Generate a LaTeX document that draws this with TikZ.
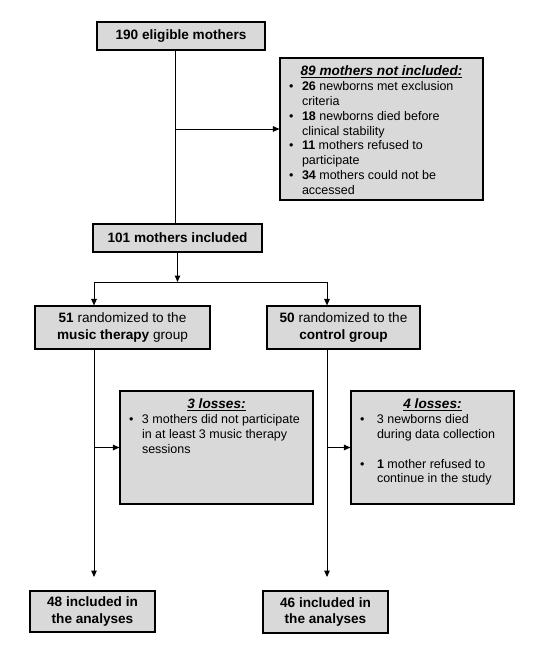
\documentclass[tikz,border=0pt]{standalone}
\usepackage{fontspec}
\setmainfont{Liberation Sans}
\usetikzlibrary{arrows.meta,positioning}
\definecolor{boxgray}{RGB}{217,217,217}
\newcommand{\bigsize}{\fontsize{13.6}{16.5}\selectfont}
\newcommand{\smallsize}{\fontsize{12.5}{14.8}\selectfont}
\newcommand{\boxhead}[1]{{\centering\bigsize\bfseries\itshape\underline{#1}\par}}
\newcommand{\bitem}[2][16pt]{\par\hangindent=#1\hangafter=1\noindent\makebox[#1][l]{\hspace{3pt}\textbullet}#2}

\begin{document}
\begin{tikzpicture}[x=1pt,y=-1pt,
  box/.style={draw,fill=boxgray,line width=1.1pt,inner sep=0pt,align=center,font=\bigsize},
  boldbox/.style={box,font=\bigsize\bfseries},
  listbox/.style={draw,fill=boxgray,line width=1.1pt,inner xsep=6pt,inner ysep=0pt},
  link/.style={line width=1pt},
  arr/.style={line width=1pt,-{Triangle[length=6.5pt,width=5.5pt]}}]
\useasboundingbox (0,0) rectangle (551,661);
\node[boldbox,minimum width=168pt,minimum height=28pt] (elig) at (181,36) {190 eligible mothers};
\node[listbox] (notinc) at (381.5,129) {\parbox[c][142pt][t]{191pt}{\vspace*{8pt}\boxhead{89 mothers not included:}\smallsize\raggedright
\bitem{\textbf{26} newborns met exclusion\newline criteria}
\bitem{\textbf{18} newborns died before\newline clinical stability}
\bitem{\textbf{11} mothers refused to\newline participate}
\bitem{\textbf{34} mothers could not be\newline accessed}}};
\node[boldbox,minimum width=169pt,minimum height=28pt] (incl) at (177.5,238) {101 mothers included};
\node[box,minimum width=175pt,minimum height=43pt] (music) at (122.5,327.5) {\textbf{51} randomized to the\\\textbf{music therapy} group};
\node[box,minimum width=153pt,minimum height=43pt] (control) at (343.5,327.5) {\textbf{50} randomized to the\\\textbf{control group}};
\node[listbox] (lossA) at (216.5,447.5) {\parbox[c][113pt][t]{181pt}{\vspace*{8pt}\boxhead{3 losses:}\smallsize\raggedright
\bitem{3 mothers did not participate\newline in at least 3 music therapy\newline sessions}}};
\node[listbox] (lossB) at (432.5,447.5) {\parbox[c][113pt][t]{151pt}{\vspace*{8pt}\boxhead{4 losses:}\smallsize\raggedright
\bitem[20pt]{3 newborns died\newline during data collection}
\par\vspace{14.8pt}
\bitem[20pt]{\textbf{1} mother refused to\newline continue in the study}}};
\node[boldbox,minimum width=125pt,minimum height=41pt] (anA) at (92.5,611.5) {48 included in\\the analyses};
\node[boldbox,minimum width=125pt,minimum height=42pt] (anB) at (325.5,612) {46 included in\\the analyses};
\coordinate (trunk) at (175,0);
\coordinate (fork) at (177.5,282);
\coordinate (forkL) at (94,282);
\coordinate (forkR) at (327,282);
\coordinate (tipL) at (94,577);
\coordinate (tipR) at (327,577);
\draw[link] (elig.south -| trunk) -- (incl.north -| trunk);
\draw[arr] (trunk |- notinc.west) -- (notinc.west);
\draw[arr] (incl.south) -- (fork);
\draw[link] (forkL) -- (forkR);
\draw[arr] (forkL) -- (forkL |- music.north);
\draw[arr] (forkR) -- (forkR |- control.north);
\draw[arr] (music.south -| forkL) -- (tipL);
\draw[arr] (control.south -| forkR) -- (tipR);
\draw[arr] (forkL |- lossA.west) -- (lossA.west);
\draw[arr] (forkR |- lossB.west) -- (lossB.west);
\end{tikzpicture}
\end{document}
